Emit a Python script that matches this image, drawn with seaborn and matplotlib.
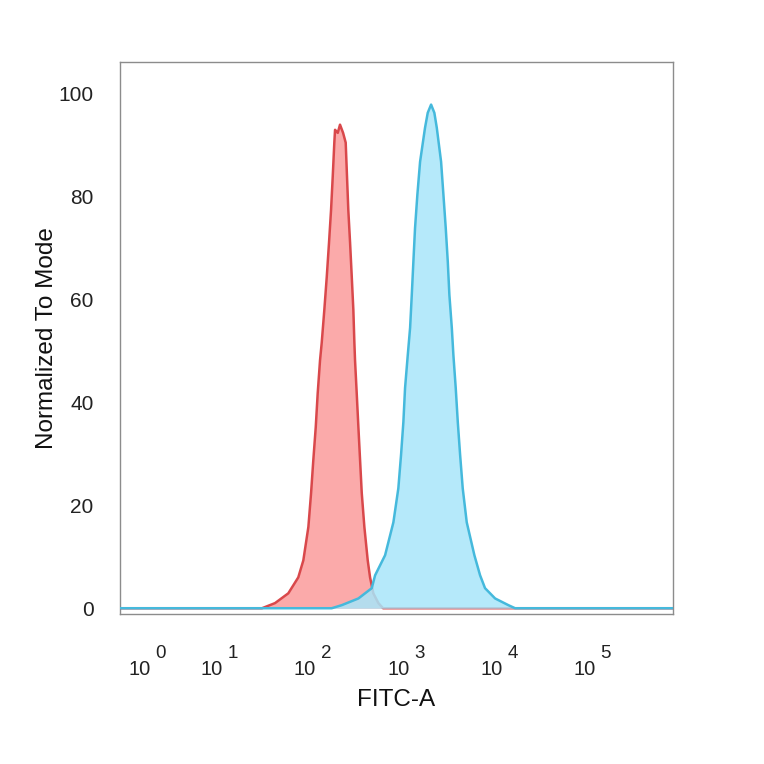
import numpy as np
import pandas as pd
import matplotlib
matplotlib.use('Agg')
import matplotlib.pyplot as plt
import seaborn as sns

# x in display decades (log-like scale), y = % of mode
red_x = [-0.069, 1.40, 1.453, 1.593, 1.735, 1.842, 1.896, 1.950, 1.979, 2.003, 2.029, 2.050, 2.075, 2.093, 2.121,
         2.147, 2.171, 2.193, 2.211, 2.228, 2.236, 2.265, 2.289, 2.322, 2.350, 2.364, 2.378, 2.397, 2.415, 2.432,
         2.443, 2.450, 2.468, 2.486, 2.504, 2.522, 2.550, 2.586, 2.611, 2.646, 2.700, 2.750, 4.10, 5.858]
red_y = [0, 0, 0, 1.0, 2.9, 6.0, 9.3, 15.8, 22.4, 28.8, 35.2, 41.8, 48.2, 51.6, 58.0,
         64.4, 71.0, 77.4, 83.9, 90.5, 93.0, 92.4, 94.0, 92.4, 90.5, 83.9, 77.4, 71.0, 64.4, 58.0,
         51.6, 48.2, 41.8, 35.2, 28.8, 22.4, 15.8, 9.3, 6.0, 2.9, 1.0, 0, 0, 0]

blue_x = [-0.069, 2.20, 2.308, 2.486, 2.629, 2.665, 2.772, 2.861, 2.914, 2.943, 2.968, 2.986, 3.015, 3.040, 3.058,
          3.075, 3.093, 3.118, 3.147, 3.200, 3.229, 3.265, 3.300, 3.326, 3.372, 3.397, 3.422, 3.444, 3.461, 3.487,
          3.504, 3.529, 3.551, 3.576, 3.604, 3.647, 3.729, 3.790, 3.843, 3.951, 4.093, 4.165, 5.858]
blue_y = [0, 0, 0.6, 1.9, 3.9, 6.4, 10.3, 16.7, 23.3, 29.8, 36.2, 42.8, 49.2, 54.5, 60.9,
          67.3, 73.9, 80.4, 86.8, 93.4, 96.3, 97.9, 96.3, 93.4, 86.8, 80.4, 73.9, 67.3, 60.9, 54.5,
          49.2, 42.8, 36.2, 29.8, 23.3, 16.7, 10.3, 6.4, 3.9, 1.9, 0.6, 0, 0]

tick_pos = [0.228, 1, 2, 3, 4, 5]
tick_exp = ['0', '1', '2', '3', '4', '5']
ytick_pos = [0, 20, 40, 60, 80, 100]

sns.set_theme(style='white')
plt.rcParams['font.family'] = ['Liberation Sans', 'DejaVu Sans']

fig = plt.figure(figsize=(7.64, 7.64), dpi=100)
ax = fig.add_axes([0.157, 0.196, 0.724, 0.723])

red = pd.DataFrame({'x': red_x, 'y': red_y})
blue = pd.DataFrame({'x': blue_x, 'y': blue_y})

ax.fill_between(red['x'], red['y'], color='#fba3a3', alpha=0.92, lw=0, zorder=2)
sns.lineplot(data=red, x='x', y='y', ax=ax, color='#d9484b', lw=1.8, zorder=3, sort=False)
ax.fill_between(blue['x'], blue['y'], color='#a8e6fa', alpha=0.85, lw=0, zorder=4)
sns.lineplot(data=blue, x='x', y='y', ax=ax, color='#45b9dc', lw=1.8, zorder=5, sort=False)

ax.set_xlim(-0.069, 5.858)
ax.set_ylim(-1.17, 106.2)
ax.set_xticks(tick_pos)
ax.set_yticks(ytick_pos)
ax.tick_params(axis='x', length=0, labelbottom=False)
ax.tick_params(axis='y', length=0, pad=19, labelsize=15, colors='#222222')

# decade labels: "10" with a raised exponent, placed below the axis
for pos, e in zip(tick_pos, tick_exp):
    ax.annotate('10', xy=(pos, 0), xycoords=('data', 'axes fraction'),
                xytext=(2.2, -40), textcoords='offset points',
                ha='right', va='center', fontsize=14.5, color='#222222')
    ax.annotate(e, xy=(pos, 0), xycoords=('data', 'axes fraction'),
                xytext=(5.5, -28), textcoords='offset points',
                ha='left', va='center', fontsize=13.5, color='#222222')

ax.set_xlabel('FITC-A', fontsize=17.5, color='#111111', labelpad=54)
ax.set_ylabel('Normalized To Mode', fontsize=17.5, color='#111111', labelpad=0.5)
for s in ax.spines.values():
    s.set_color('#8c8c8c')
    s.set_linewidth(1.0)

fig.savefig('out.png', dpi=100)
